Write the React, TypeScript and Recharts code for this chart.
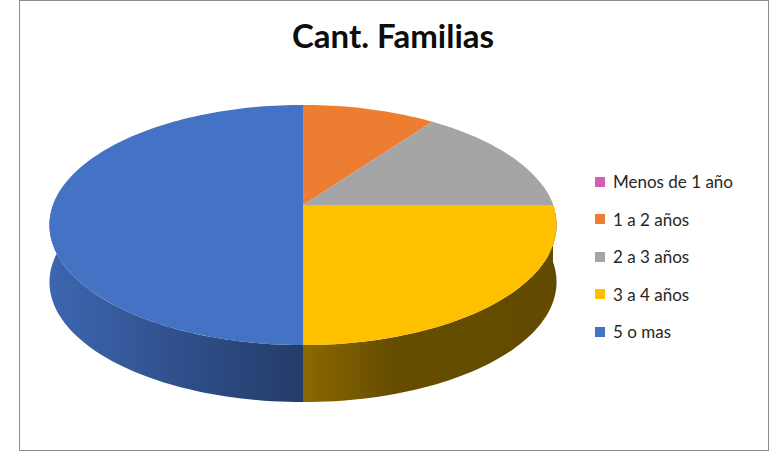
import { PieChart, Pie, Cell, Legend } from 'recharts';

const categories = ['Menos de 1 año', '1 a 2 años', '2 a 3 años', '3 a 4 años', '5 o mas'];
const familias = [0, 2, 3, 5, 10];
const colors = ['#D65DB1', '#ED7D31', '#A5A5A5', '#FFC000', '#4472C4'];
// side wall shading: [near-start, darker, darkest]
const sideShades = [
  ['#8a3a72', '#6a2c57', '#6a2c57'],
  ['#9a5020', '#7a3f18', '#7a3f18'],
  ['#707070', '#585858', '#585858'],
  ['#8C6800', '#664D00', '#624A00'],
  ['#3D66B0', '#30508C', '#243C69'],
];

const data = categories.map((name, i) => ({ name, value: familias[i] }));

const TILT = 0.467; // vertical squash of the disc
const PERSP = 1 / 6; // near side looks bigger
const DEPTH = 57;
const FONT = 'Lato, "Open Sans", sans-serif';

function rim(cx: number, cy: number, r: number, theta: number, dy = 0) {
  const t = (theta * Math.PI) / 180;
  const u = Math.sin(t);
  const v = -Math.cos(t);
  const d = 1 - PERSP * v;
  return [cx + (r * u) / d, cy + dy + (r * TILT * v) / d];
}

function arc(cx: number, cy: number, r: number, a: number, b: number, dy = 0) {
  const pts: number[][] = [];
  const n = Math.max(2, Math.ceil(Math.abs(b - a) / 1.5));
  for (let i = 0; i <= n; i++) pts.push(rim(cx, cy, r, a + ((b - a) * i) / n, dy));
  return pts;
}

const toPath = (pts: number[][]) =>
  pts.map((p, i) => `${i ? 'L' : 'M'}${p[0].toFixed(2)},${p[1].toFixed(2)}`).join('') + 'Z';

function Sector3D(props: any) {
  const { cx, cy, outerRadius, startAngle, endAngle, fill } = props;
  const name = props.name ?? props.payload?.name;
  const idx = Math.max(0, categories.indexOf(name));
  const lo = Math.min(90 - startAngle, 90 - endAngle);
  const hi = Math.max(90 - startAngle, 90 - endAngle);
  if (hi - lo < 0.01) return <g />;

  const top = [[cx, cy], ...arc(cx, cy, outerRadius, lo, hi)];
  const s1 = Math.max(lo, 80);
  const s2 = Math.min(hi, 280);
  let side = null;
  if (s2 > s1) {
    const upper = arc(cx, cy, outerRadius, s1, s2);
    const lower = arc(cx, cy, outerRadius, s2, s1, DEPTH);
    const pts = [...upper, ...lower];
    const xs = pts.map((p) => p[0]);
    const x0 = Math.min(...xs);
    const x1 = Math.max(...xs);
    const sh = sideShades[idx];
    const gid = `side-${idx}`;
    const mid = idx === 3 ? '0.35' : '0.5'; // yellow darkens fast away from the front
    side = (
      <g>
        <defs>
          <linearGradient id={gid} gradientUnits="userSpaceOnUse" x1={x0} y1={0} x2={x1} y2={0}>
            <stop offset="0" stopColor={sh[0]} />
            <stop offset={mid} stopColor={sh[1]} />
            <stop offset="1" stopColor={sh[2]} />
          </linearGradient>
        </defs>
        <path d={toPath(pts)} fill={`url(#${gid})`} />
      </g>
    );
  }
  return (
    <g>
      {side}
      <path d={toPath(top)} fill={fill} />
    </g>
  );
}

function LegendList() {
  return (
    <div style={{ fontFamily: FONT, fontSize: 17, color: '#262626' }}>
      {categories.map((c, i) => (
        <div key={c} style={{ height: 37.5, display: 'flex', alignItems: 'center', whiteSpace: 'nowrap' }}>
          <span style={{ width: 10, height: 10, background: colors[i], marginRight: 8, display: 'inline-block' }} />
          {c}
        </div>
      ))}
    </div>
  );
}

export default function App() {
  return (
    <div style={{ position: 'absolute', left: 0, top: 0, width: 770, height: 451, background: '#fff' }}>
      <div
        style={{
          position: 'absolute',
          left: 19,
          top: 0,
          width: 748,
          height: 449,
          border: '1px solid #8c8c8c',
        }}
      />
      <div
        style={{
          position: 'absolute',
          left: 393,
          top: 19,
          transform: 'translateX(-50%)',
          fontFamily: FONT,
          fontWeight: 700,
          fontSize: 33,
          lineHeight: '33px',
          color: '#0d0d0d',
          whiteSpace: 'nowrap',
        }}
      >
        Cant. Familias
      </div>
      <div style={{ position: 'absolute', left: 0, top: 0 }}>
        <PieChart width={770} height={451} margin={{ top: 0, right: 0, bottom: 0, left: 0 }}>
          <Pie
            data={data}
            dataKey="value"
            nameKey="name"
            cx={303}
            cy={205}
            outerRadius={250}
            startAngle={90}
            endAngle={-270}
            stroke="none"
            isAnimationActive={false}
            shape={Sector3D}
            inactiveShape={Sector3D}
          >
            {data.map((d, i) => (
              <Cell key={d.name} fill={colors[i]} />
            ))}
          </Pie>
          <Legend
            layout="vertical"
            align="right"
            verticalAlign="top"
            content={() => <LegendList />}
            wrapperStyle={{ left: 595, top: 163, width: 170 }}
          />
        </PieChart>
      </div>
    </div>
  );
}
